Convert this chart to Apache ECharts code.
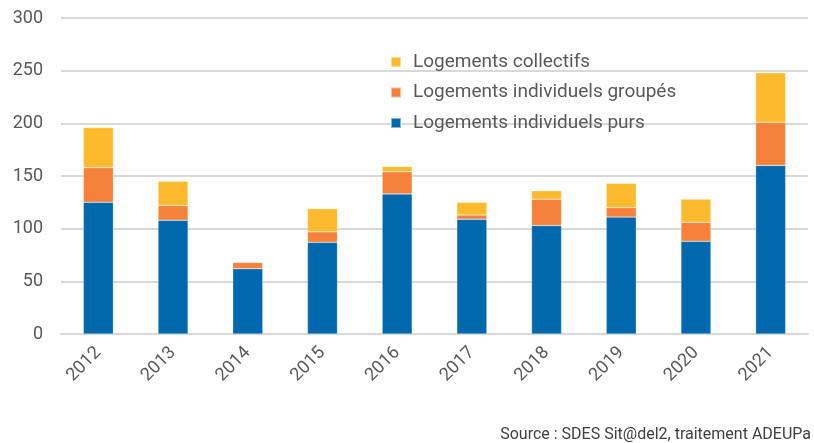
<!DOCTYPE html>
<html>
<head>
<meta charset="utf-8">
<script src="https://cdn.jsdelivr.net/npm/echarts@6/dist/echarts.min.js"></script>
<style>
    html, body { margin: 0; padding: 0; background: #fff; }
    #chart { width: 814px; height: 443px; }
</style>
</head>
<body>
<div id="chart"></div>
<script>
const years = ['2012', '2013', '2014', '2015', '2016', '2017', '2018', '2019', '2020', '2021'];
const individuelsPurs = [125, 108, 62, 87, 133, 109, 103, 111, 88, 160];
const individuelsGroupes = [33, 14, 6, 10, 21, 4, 25, 9, 18, 41];
const collectifs = [38, 23, 0, 22, 5, 12, 8, 23, 22, 47];
const yTicks = [0, 50, 100, 150, 200, 250, 300];

const textColor = '#595959';
const gridColor = '#d9d9d9';

function barSeries(name, data, color) {
    return {
        name: name,
        type: 'bar',
        stack: 'total',
        barWidth: 30,
        data: data,
        itemStyle: { color: color, borderColor: 'rgba(255,255,255,0.5)', borderWidth: 0.5 }
    };
}

const chart = echarts.init(document.getElementById('chart'));
chart.setOption({
    animation: false,
    textStyle: { fontFamily: 'Roboto' },
    grid: { left: 61, right: 6, top: 18, bottom: 109 },
    legend: {
        orient: 'vertical',
        left: 390,
        top: 52,
        padding: 0,
        icon: 'rect',
        itemWidth: 10,
        itemHeight: 10,
        itemGap: 10.5,
        textStyle: { color: textColor, fontSize: 19, lineHeight: 20, padding: [0, 0, 0, 7], fontFamily: 'Roboto' },
        data: ['Logements collectifs', 'Logements individuels groupés', 'Logements individuels purs']
    },
    xAxis: {
        type: 'category',
        data: years,
        axisLine: { lineStyle: { color: gridColor, width: 2 } },
        axisTick: { show: false },
        axisLabel: { rotate: 45, margin: 16, color: textColor, fontSize: 18 }
    },
    yAxis: {
        type: 'value',
        min: yTicks[0],
        max: yTicks[yTicks.length - 1],
        interval: 50,
        axisLine: { show: false },
        axisTick: { show: false },
        axisLabel: { margin: 18, color: textColor, fontSize: 18 },
        splitLine: { lineStyle: { color: gridColor, width: 2 } }
    },
    series: [
        barSeries('Logements individuels purs', individuelsPurs, '#0069ae'),
        barSeries('Logements individuels groupés', individuelsGroupes, '#f5813b'),
        barSeries('Logements collectifs', collectifs, '#fdba2c')
    ],
    graphic: [{
        type: 'text',
        right: 3,
        top: 427,
        style: { text: 'Source : SDES Sit@del2, traitement ADEUPa', fill: '#404040', fontSize: 16, fontFamily: 'Roboto' }
    }]
});
</script>
</body>
</html>
